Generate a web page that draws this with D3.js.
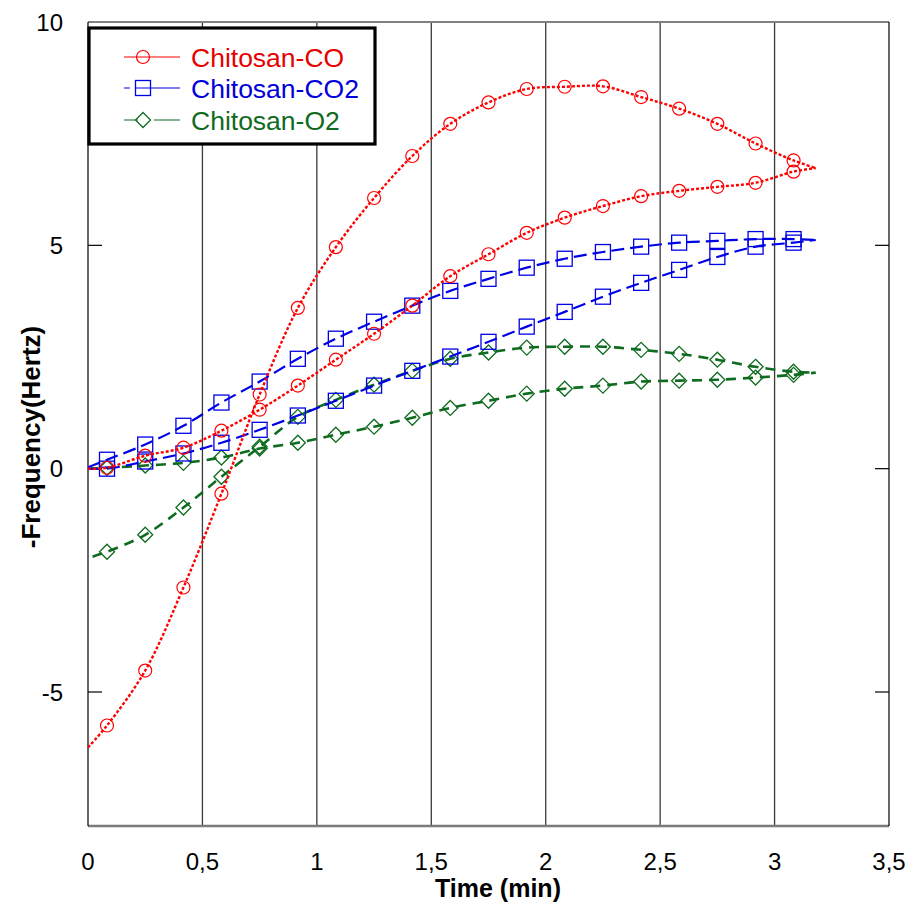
<!DOCTYPE html>
<html>
<head>
<meta charset="utf-8">
<script src="https://cdn.jsdelivr.net/npm/d3@7"></script>
<style>
  html, body { margin: 0; padding: 0; background: #fff; }
  svg { display: block; font-family: "Liberation Sans", Arial, sans-serif; }
</style>
</head>
<body>
<svg id="chart" width="918" height="906"></svg>
<script>
// ---- data ----
const markerTimes = [0.083, 0.25, 0.417, 0.583, 0.75, 0.917, 1.083, 1.25, 1.417, 1.583,
                     1.75, 1.917, 2.083, 2.25, 2.417, 2.583, 2.75, 2.917, 3.083];
const endTime = 3.18;

// Chitosan-CO
const coRiseStart = -6.24;
const coRise = [-5.75, -4.52, -2.66, -0.56, 1.66, 3.6, 4.96, 6.06, 7.0, 7.72,
                8.2, 8.5, 8.55, 8.56, 8.32, 8.06, 7.72, 7.28, 6.9];
const coBaseStart = 0;
const coBase = [0.02, 0.29, 0.47, 0.85, 1.32, 1.86, 2.44, 3.02, 3.65, 4.31,
                4.8, 5.28, 5.62, 5.88, 6.1, 6.22, 6.31, 6.4, 6.65];
const coEnd = 6.73;

// Chitosan-CO2
const co2UpperStart = 0.03;
const co2Upper = [0.2, 0.54, 0.96, 1.48, 1.95, 2.46, 2.91, 3.29, 3.65, 3.98,
                  4.25, 4.5, 4.7, 4.85, 4.97, 5.06, 5.1, 5.14, 5.14];
const co2LowerStart = 0;
const co2Lower = [0.0, 0.16, 0.34, 0.58, 0.87, 1.19, 1.52, 1.86, 2.19, 2.51,
                  2.84, 3.18, 3.51, 3.85, 4.16, 4.45, 4.74, 4.97, 5.06];
const co2End = 5.12;

// Chitosan-O2
const o2RiseStartTime = 0.02;
const o2RiseStart = -1.97;
const o2Rise = [-1.86, -1.48, -0.87, -0.18, 0.49, 1.16, 1.54, 1.88, 2.19, 2.46,
                2.6, 2.71, 2.73, 2.73, 2.66, 2.57, 2.44, 2.28, 2.17];
const o2BaseStart = 0;
const o2Base = [0.02, 0.07, 0.13, 0.25, 0.45, 0.58, 0.76, 0.94, 1.14, 1.36,
                1.52, 1.68, 1.79, 1.86, 1.95, 1.97, 1.99, 2.04, 2.1];
const o2End = 2.15;

const xTicks = [0, 0.5, 1, 1.5, 2, 2.5, 3, 3.5];
const xTickLabels = ["0", "0,5", "1", "1,5", "2", "2,5", "3", "3,5"];
const yTicks = [-5, 0, 5, 10];
const yTickLabels = ["-5", "0", "5", "10"];
const seriesNames = ["Chitosan-CO", "Chitosan-CO2", "Chitosan-O2"];

// ---- layout ----
const svg = d3.select("#chart");
const L = 88, R = 889, T = 22, B = 826;
const x = d3.scaleLinear().domain([0, 3.5]).range([L, R]);
const y = d3.scaleLinear().domain([-8, 10]).range([B, T]);

const styles = [
  { color: "#ff0000", text: "#e60000", dash: "3,2", width: 2.4, marker: "circle" },
  { color: "#0000e6", text: "#0000dd", dash: "13,6", width: 2.2, marker: "square" },
  { color: "#0f6b1f", text: "#116a22", dash: "10,7", width: 2.6, marker: "diamond" }
];

function branch(startT, startV, vals, endV) {
  const pts = [[startT, startV]];
  vals.forEach((v, i) => pts.push([markerTimes[i], v]));
  pts.push([endTime, endV]);
  return pts;
}

const series = [
  { branches: [branch(0, coRiseStart, coRise, coEnd), branch(0, coBaseStart, coBase, coEnd)],
    markers: [coRise, coBase] },
  { branches: [branch(0, co2UpperStart, co2Upper, co2End), branch(0, co2LowerStart, co2Lower, co2End)],
    markers: [co2Upper, co2Lower] },
  { branches: [branch(o2RiseStartTime, o2RiseStart, o2Rise, o2End), branch(0, o2BaseStart, o2Base, o2End)],
    markers: [o2Rise, o2Base] }
];

// ---- frame & grid ----
const g = svg.append("g");
g.selectAll("line.grid").data(xTicks.filter(t => t > 0 && t < 3.5)).enter()
  .append("line").attr("class", "grid")
  .attr("x1", d => x(d)).attr("x2", d => x(d))
  .attr("y1", T).attr("y2", B)
  .attr("stroke", "#3a3a3a").attr("stroke-width", 1.3);

g.append("line").attr("x1", L).attr("x2", R).attr("y1", T).attr("y2", T)
  .attr("stroke", "#808080").attr("stroke-width", 2.2);
g.append("line").attr("x1", L).attr("x2", R).attr("y1", B).attr("y2", B)
  .attr("stroke", "#7a7a7a").attr("stroke-width", 2.4);
g.append("line").attr("x1", L).attr("x2", L).attr("y1", T).attr("y2", B)
  .attr("stroke", "#000").attr("stroke-width", 1.2);
g.append("line").attr("x1", R).attr("x2", R).attr("y1", T).attr("y2", B)
  .attr("stroke", "#000").attr("stroke-width", 1.2);

const innerTicks = yTicks.filter(v => v < 10);
g.selectAll("line.lt").data(innerTicks).enter().append("line")
  .attr("x1", L).attr("x2", L + 14).attr("y1", d => y(d)).attr("y2", d => y(d))
  .attr("stroke", "#000").attr("stroke-width", 1.2);
g.selectAll("line.rt").data(innerTicks).enter().append("line")
  .attr("x1", R - 14).attr("x2", R).attr("y1", d => y(d)).attr("y2", d => y(d))
  .attr("stroke", "#000").attr("stroke-width", 1.2);

g.selectAll("text.yt").data(yTicks).enter().append("text")
  .attr("x", 63).attr("y", d => y(d)).attr("dy", "0.36em")
  .attr("text-anchor", "end").attr("font-size", 24).attr("fill", "#000")
  .text((d, i) => yTickLabels[i]);
g.selectAll("text.xt").data(xTicks).enter().append("text")
  .attr("x", d => x(d)).attr("y", 870)
  .attr("text-anchor", "middle").attr("font-size", 24).attr("fill", "#000")
  .text((d, i) => xTickLabels[i]);

g.append("text").attr("x", 498).attr("y", 897).attr("text-anchor", "middle")
  .attr("font-size", 25).attr("font-weight", "bold").text("Time (min)");
g.append("text").attr("transform", "translate(40,437) rotate(-90)")
  .attr("text-anchor", "middle").attr("font-size", 26).attr("font-weight", "bold")
  .text("-Frequency(Hertz)");

// ---- series ----
const line = d3.line().x(d => x(d[0])).y(d => y(d[1])).curve(d3.curveCatmullRom.alpha(0.5));

function drawMarker(sel, type, color) {
  if (type === "circle") {
    sel.append("circle").attr("r", 6.5).attr("fill", "none")
      .attr("stroke", color).attr("stroke-width", 1.2);
  } else if (type === "square") {
    sel.append("rect").attr("x", -7.5).attr("y", -7.5).attr("width", 15).attr("height", 15)
      .attr("fill", "none").attr("stroke", color).attr("stroke-width", 1.3);
  } else {
    sel.append("path").attr("d", "M0,-7.5L7.5,0L0,7.5L-7.5,0Z")
      .attr("fill", "none").attr("stroke", color).attr("stroke-width", 1.3);
  }
}

[2, 1, 0].forEach(si => {
  const s = series[si], st = styles[si];
  const sg = svg.append("g");
  s.branches.forEach(br => {
    sg.append("path").attr("d", line(br)).attr("fill", "none")
      .attr("stroke", st.color).attr("stroke-width", st.width)
      .attr("stroke-dasharray", st.dash).attr("stroke-linecap", "butt");
  });
  s.markers.forEach(vals => {
    vals.forEach((v, i) => {
      const m = sg.append("g").attr("transform", `translate(${x(markerTimes[i])},${y(v)})`);
      drawMarker(m, st.marker, st.color);
    });
  });
});

// ---- legend ----
const lg = svg.append("g");
lg.append("rect").attr("x", 89).attr("y", 28).attr("width", 286).attr("height", 116)
  .attr("fill", "#fff").attr("stroke", "#000").attr("stroke-width", 3.2);
const rowsY = [57, 88, 120];
seriesNames.forEach((name, i) => {
  const st = styles[i];
  const yy = rowsY[i];
  lg.append("line").attr("x1", 124).attr("x2", 180).attr("y1", yy).attr("y2", yy)
    .attr("stroke", st.color).attr("stroke-width", 1.2)
    .attr("stroke-dasharray", i === 0 ? null : (i === 1 ? "6,6,60" : "14,16,30"));
  const m = lg.append("g").attr("transform", `translate(143,${yy})`);
  drawMarker(m, st.marker, st.color);
  lg.append("text").attr("x", 191).attr("y", yy).attr("dy", "0.36em")
    .attr("font-size", 26.5).attr("fill", st.text).text(name);
});
</script>
</body>
</html>
